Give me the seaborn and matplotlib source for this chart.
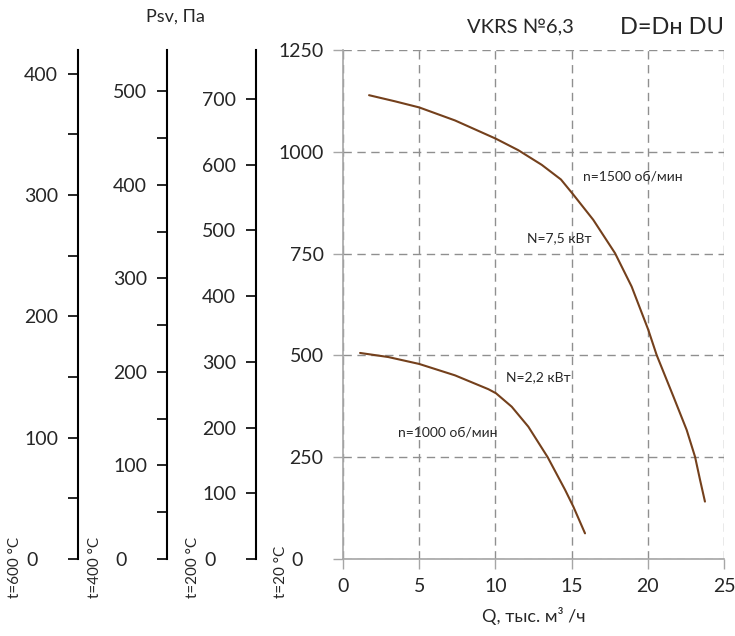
import matplotlib
matplotlib.use("Agg")
import matplotlib.pyplot as plt
import matplotlib.transforms as mtrans
import numpy as np
import pandas as pd
import seaborn as sns

# fan curves, Q in thousand m3/h, Psv in Pa at t=20 C
q_1500 = [1.71, 3.41, 5.0, 7.35, 10.04, 11.5, 13.04, 14.3, 15.11, 16.42, 17.85,
          18.94, 20.03, 20.58, 21.68, 22.55, 23.1, 23.43, 23.75]
p_1500 = [1139, 1124, 1109, 1077, 1032, 1004, 968, 932, 895, 833, 751,
          669, 563, 501, 399, 317, 251, 194, 141]
q_1000 = [1.12, 2.97, 5.0, 7.35, 9.54, 10.04, 11.07, 12.16, 13.43, 14.57, 15.11, 15.88]
p_1000 = [506, 496, 479, 451, 417, 407, 374, 325, 250, 170, 129, 63]

temps = [600, 400, 200]          # extra pressure scales, left to right
temp_ticks = [100, 100, 100]
temp_minor = [50, 50, None]
main_ymax = 1250
x_ticks = [0, 5, 10, 15, 20, 25]
y_ticks = [0, 250, 500, 750, 1000, 1250]

sns.set_theme(style="white")
plt.rcParams['font.family'] = ['Lato', 'Open Sans', 'DejaVu Sans']

curve_color = '#74401C'
grid_color = '#8f8f8f'

fig = plt.figure(figsize=(7.35, 6.36), dpi=100)
W, H = 735, 636
bot = 1 - 559 / H
top = 1 - 50 / H
zero_shift = mtrans.ScaledTranslation(-0.21, 0, fig.dpi_scale_trans)

ax = fig.add_axes([343 / W, bot, (724 - 343) / W, top - bot])
df1 = pd.DataFrame({'Q': q_1500, 'P': p_1500})
df2 = pd.DataFrame({'Q': q_1000, 'P': p_1000})
sns.lineplot(data=df1, x='Q', y='P', sort=False, color=curve_color, lw=1.5, ax=ax)
sns.lineplot(data=df2, x='Q', y='P', sort=False, color=curve_color, lw=1.5, ax=ax)

ax.set_xlim(0, 25)
ax.set_ylim(0, main_ymax)
ax.set_xticks(x_ticks)
ax.set_yticks(y_ticks)
ax.grid(True, color=grid_color, ls=(0, (6, 4)), lw=1)
for s in ['top', 'right']:
    ax.spines[s].set_visible(False)
for s in ['left', 'bottom']:
    ax.spines[s].set_color('#a6a6a6')
    ax.spines[s].set_linewidth(1.2)
ax.tick_params(axis='both', direction='out', length=7, width=1, color='#a6a6a6',
               labelsize=14, pad=7, left=True, bottom=True)
ax.set_xlabel('Q, тыс. м³ /ч', fontsize=13, labelpad=8)
ax.set_ylabel('')

ax.text(15.75, 940, 'n=1500 об/мин', fontsize=10, va='center')
ax.text(12.07, 789, 'N=7,5 кВт', fontsize=10, va='center')
ax.text(10.68, 447, 'N=2,2 кВт', fontsize=10, va='center')
ax.text(3.6, 310, 'n=1000 об/мин', fontsize=10, va='center')

# extra pressure scales for hot gas
spine_x = [77.7, 166.7, 255.7]
y_axes = [ax]
for t, xs, step, mstep in zip(temps, spine_x, temp_ticks, temp_minor):
    ymax = main_ymax * 293 / (273 + t)
    a = fig.add_axes([xs / W, bot, 0.0005, top - bot])
    a.set_facecolor('none')
    a.set_ylim(0, ymax)
    a.set_xticks([])
    a.set_yticks(np.arange(0, ymax, step))
    if mstep:
        a.set_yticks(np.arange(0, ymax, mstep), minor=True)
    for s in ['top', 'right', 'bottom']:
        a.spines[s].set_visible(False)
    a.spines['left'].set_color('black')
    a.spines['left'].set_linewidth(1.5)
    a.tick_params(axis='y', which='both', direction='out', length=7, width=1.2,
                  color='black', labelsize=14, pad=7, left=True)
    y_axes.append(a)

# the "0" labels sit left-aligned with the other labels, as in the original
fig.canvas.draw()
for a in y_axes:
    lbl0 = a.get_yticklabels()[0]
    lbl0.set_transform(lbl0.get_transform() + zero_shift)

for lbl, xs in zip(['t=600 °C', 't=400 °C', 't=200 °C', 't=20 °C'], [15, 95, 193, 281]):
    fig.text(xs / W, 1 - 598 / H, lbl, rotation=90, ha='center', va='bottom', fontsize=11)

fig.text(175 / W, 1 - 17 / H, 'Psv, Па', ha='center', va='center', fontsize=13)
fig.text(520 / W, 1 - 28 / H, 'VKRS №6,3', ha='center', va='center', fontsize=14.5)
fig.text(672 / W, 1 - 27 / H, 'D=Dн DU', ha='center', va='center', fontsize=17)

fig.savefig('out.png', dpi=100)
